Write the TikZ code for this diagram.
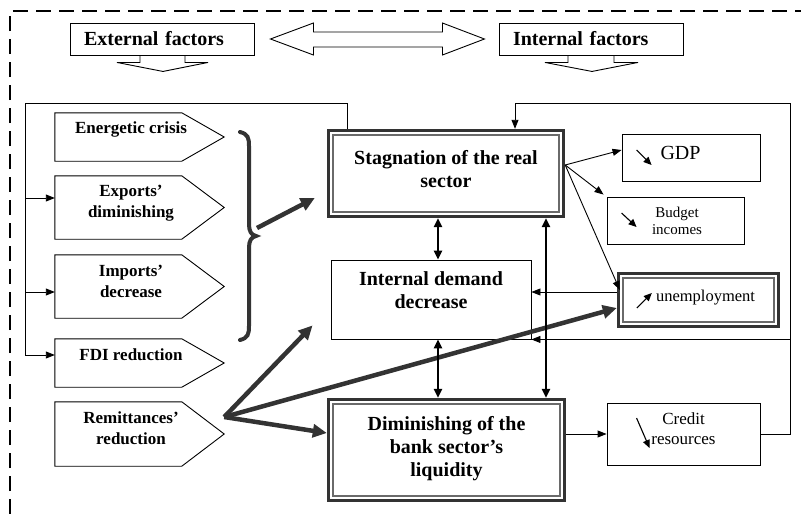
\documentclass[tikz,border=0pt]{standalone}
\usepackage{fontspec}
\setmainfont{Liberation Serif}
\usetikzlibrary{arrows.meta,calc}
\definecolor{tdark}{HTML}{333333}
\definecolor{tgray}{HTML}{6A6A6A}

% frame of three nested lines around a named node
\newcommand\tripleframe[1]{%
  \draw[line width=3.6pt, tdark] ([shift={(1.8pt,1.8pt)}]#1.south west) rectangle ([shift={(-1.8pt,-1.8pt)}]#1.north east);
  \draw[line width=1.4pt, tgray] ([shift={(6.3pt,6.3pt)}]#1.south west) rectangle ([shift={(-6.3pt,-6.3pt)}]#1.north east);
}
% pentagon arrow around a factor node
\newcommand\factorshape[1]{%
  \draw[line width=0.9pt] (#1.north west) -- ([xshift=127pt]#1.north west) -- ([xshift=17pt]#1.east)
    -- ([xshift=127pt]#1.south west) -- (#1.south west) -- cycle;
}

\begin{document}
\begin{tikzpicture}[x=1pt,y=-1pt,
  every node/.style={inner sep=0pt},
  plain/.style={draw, line width=0.9pt, rectangle},
  bigbox/.style={rectangle},
  hdr/.style={plain, minimum width=184pt, minimum height=32pt, text width=156pt, align=left,
    font=\fontsize{20}{23}\selectfont\bfseries},
  factor/.style={rectangle, minimum width=152pt},
  ftext/.style={align=center, font=\fontsize{17}{21}\selectfont\bfseries},
  btext/.style={align=center, font=\fontsize{20}{23}\selectfont\bfseries},
  conn/.style={line width=0.9pt, -{Triangle[length=9pt,width=7pt]}},
  bi/.style={line width=2.4pt, {Triangle[length=9pt,width=8pt]}-{Triangle[length=9pt,width=8pt]}},
  heavy/.style={tdark, line width=4.5pt, -{Triangle[length=14pt,width=13pt]}},
  icon/.style={line width=1.1pt, -{Triangle[length=8pt,width=7pt]}},
]
\useasboundingbox (0,0) rectangle (801,514);

% dashed outer frame
\draw[line width=2pt, dash pattern=on 15pt off 8pt] (10,514) -- (10,11) -- (801,11);

% headers
\node[hdr] (ext) at (162,39) {External factors};
\node[hdr] (int) at (591,39) {Internal factors};
\draw[line width=0.9pt] ([xshift=-22pt]ext.south) -- ++(0,7) -- ++(-23,0) -- ++(46,9) -- ++(45,-9) -- ++(-23,0) -- ++(0,-7);
\draw[line width=0.9pt] ([xshift=-23pt]int.south) -- ++(0,7) -- ++(-23,0) -- ++(47,9) -- ++(46,-9) -- ++(-24,0) -- ++(0,-7);
\draw[line width=0.9pt] ([xshift=16pt]ext.east) -- ++(43,-16) -- ++(0,9) -- ++(129,0) -- ++(0,-9) -- ++(42,16)
  -- ++(-42,16) -- ++(0,-8) -- ++(-129,0) -- ++(0,8) -- cycle;

% external factors
\node[factor, minimum height=48pt, label={[ftext,yshift=8pt]center:Energetic crisis}] (en) at (131,137) {};
\node[factor, minimum height=63pt, label={[ftext,yshift=4pt]center:Exports’\\diminishing}] (ex) at (131,207.5) {};
\node[factor, minimum height=63pt, label={[ftext,yshift=5pt]center:Imports’\\decrease}] (im) at (131,286.5) {};
\node[factor, minimum height=48pt, label={[ftext,yshift=8pt]center:FDI reduction}] (fdi) at (131,363) {};
\node[factor, minimum height=64pt, label={[ftext,yshift=6pt]center:Remittances’\\reduction}] (rem) at (131,434) {};
\factorshape{en}
\factorshape{ex}
\factorshape{im}
\factorshape{fdi}
\factorshape{rem}

% central boxes
\node[bigbox, minimum width=238pt, minimum height=89pt, label={[btext,yshift=4pt]center:Stagnation of the real\\sector}] (stag) at (446,173.5) {};
\node[plain, minimum width=200pt, minimum height=79pt, label={[btext,yshift=9pt]center:Internal demand\\decrease}] (dem) at (431,299.5) {};
\node[bigbox, minimum width=239pt, minimum height=104pt, label={[btext,yshift=1pt]center:Diminishing of the\\bank sector’s\\liquidity}] (dim) at (446.5,450) {};
\tripleframe{stag}
\tripleframe{dim}

% consequences
\node[plain, minimum width=138pt, minimum height=47pt, label={[font=\fontsize{20}{23}\selectfont, xshift=-10.5pt, yshift=5pt]center:GDP}] (gdp) at (691,157.5) {};
\node[plain, minimum width=137pt, minimum height=47pt, label={[align=center, font=\fontsize{15}{17}\selectfont, xshift=1.5pt]center:Budget\\incomes}] (bud) at (675.5,220.5) {};
\node[bigbox, minimum width=163pt, minimum height=56pt, label={[font=\fontsize{16.5}{20}\selectfont, xshift=7pt, yshift=2pt]center:unemployment}] (unemp) at (698.5,300) {};
\node[plain, minimum width=153pt, minimum height=62pt, label={[align=center, font=\fontsize{17}{20}\selectfont, yshift=5.5pt]center:Credit\\resources}] (cred) at (683.5,434) {};
\tripleframe{unemp}

% trend marks inside the boxes
\draw[icon] ($(gdp.west)+(15,-7.5)$) -- ($(gdp.west)+(30,7.5)$);
\draw[icon] ($(bud.west)+(15,-7.5)$) -- ($(bud.west)+(30,6.5)$);
\draw[icon] ($(unemp.west)+(20,8)$) -- ($(unemp.west)+(35,-7)$);
\draw[icon] ($(cred.west)+(30,-16)$) -- ($(cred.west)+(43,14)$);

% brace grouping the first factors
\draw[tdark, line width=4pt, line cap=round]
  (240,132) .. controls (248,134) and (249,138) .. (249,146) -- (249,224)
  .. controls (249,231) and (251,235) .. (256,236)
  .. controls (251,237) and (249,241) .. (249,248) -- (249,326)
  .. controls (249,334) and (248,338) .. (240,340);
\coordinate (bracetip) at (257,228);
\draw[heavy] (bracetip) -- ([shift={(-12pt,-24.5pt)}]stag.west);

% remittances effects
\coordinate (remtip) at ([shift={(17pt,17pt)}]rem.east);
\draw[heavy] (remtip) -- ([shift={(-18pt,14pt)}]dem.south west);
\draw[heavy] (remtip) -- ([yshift=17pt]dim.west);
\draw[heavy] (remtip) -- ([yshift=-8pt]unemp.west);

% feedback on the left
\coordinate (fbL) at (25,103);
\draw[conn] ([xshift=-99pt]stag.north) |- (fbL) |- ([yshift=8pt]fdi.west);
\draw[conn] ([yshift=9.5pt]ex.west -| fbL) -- ([yshift=9.5pt]ex.west);
\draw[conn] ([yshift=-5.5pt]im.west -| fbL) -- ([yshift=-5.5pt]im.west);

% feedback on the right
\coordinate (fbR) at (790,103);
\draw[conn] (cred.east) -| (fbR) -| ([xshift=69pt]stag.north);
\draw[conn] (dem.south east -| fbR) -- (dem.south east);

% links between the central boxes
\draw[bi] ([xshift=-8pt]stag.south) -- ([xshift=-8pt]stag.south |- dem.north);
\draw[bi] ([xshift=7pt]dem.south) -- ([xshift=7pt]dem.south |- dim.north);
\draw[bi] ([xshift=100pt]stag.south) -- ([xshift=100pt]stag.south |- dim.north);

% consequences of stagnation
\draw[conn] ([yshift=8.5pt]stag.east) -- ([yshift=7.5pt]gdp.west);
\draw[conn] ([yshift=8.5pt]stag.east) -- ([shift={(-3pt,2pt)}]bud.north west);
\draw[conn] ([yshift=8.5pt]stag.east) -- ([shift={(3pt,10pt)}]unemp.west);
\draw[conn] ([yshift=8pt]unemp.west) -- ([yshift=8pt]unemp.west -| dem.east);
\draw[conn] (cred.west -| dim.east) -- (cred.west);
\end{tikzpicture}
\end{document}
